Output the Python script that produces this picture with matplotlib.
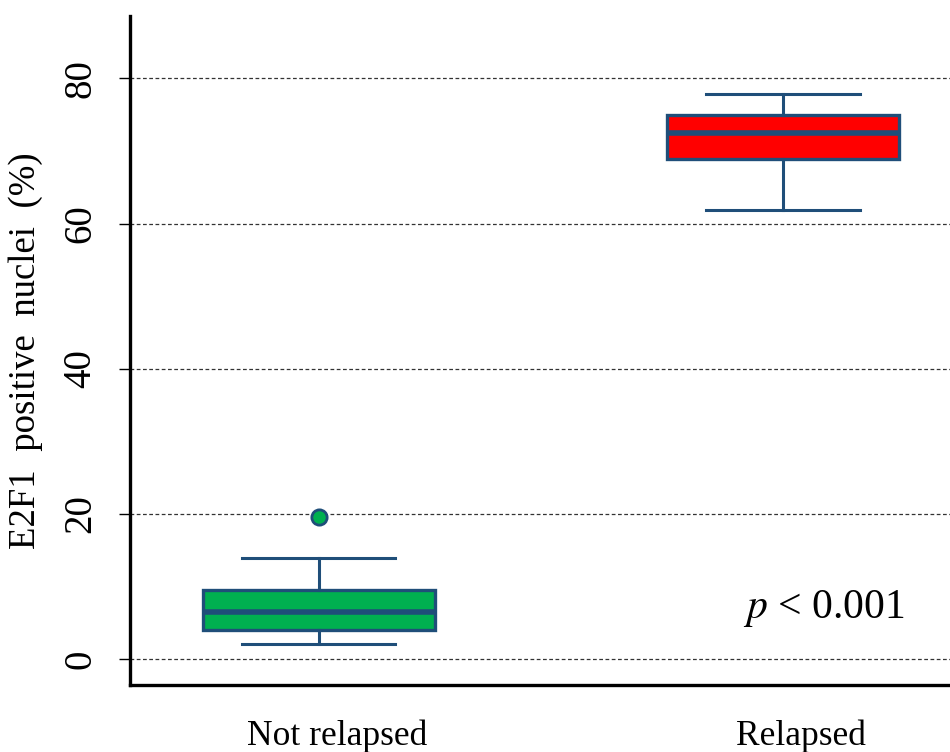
import matplotlib
matplotlib.use("Agg")
import matplotlib.pyplot as plt

# Box statistics
groups = ["Not relapsed", "Relapsed"]
whisker_low = [2.0, 61.9]
q1 = [4.0, 68.9]
median = [6.5, 72.5]
q3 = [9.5, 74.9]
whisker_high = [13.9, 77.8]
outliers = [[19.6], []]
box_colors = ["#00B050", "#FF0000"]

y_ticks = [0, 20, 40, 60, 80]
edge_color = "#1F4E79"

plt.rcParams["font.family"] = ["Liberation Serif", "DejaVu Serif"]

fig = plt.figure(figsize=(9.5, 7.52), dpi=100)
ax = fig.add_axes([0.1368, 0.0891, 0.8632, 0.8896])

stats = []
for i, name in enumerate(groups):
    stats.append({
        "label": name,
        "whislo": whisker_low[i],
        "q1": q1[i],
        "med": median[i],
        "q3": q3[i],
        "whishi": whisker_high[i],
        "fliers": outliers[i],
    })

positions = [1, 2]
bp = ax.bxp(stats, positions=positions, widths=0.5, patch_artist=True,
            showfliers=True, capwidths=0.33,
            boxprops=dict(edgecolor=edge_color, linewidth=2.4),
            medianprops=dict(color=edge_color, linewidth=4),
            whiskerprops=dict(color=edge_color, linewidth=2.2),
            capprops=dict(color=edge_color, linewidth=2.2),
            flierprops=dict(marker="o", markersize=11, markeredgewidth=2,
                            markeredgecolor=edge_color))

for patch, c in zip(bp["boxes"], box_colors):
    patch.set_facecolor(c)
for fl, c in zip(bp["fliers"], box_colors):
    fl.set_markerfacecolor(c)

ax.set_xlim(0.593, 2.36)
ax.set_ylim(-3.6, 88.6)
ax.set_yticks(y_ticks)
# category labels sit a little right of the box centres in the original
ax.set_xticks([p + 0.039 for p in positions])
ax.set_xticklabels(groups)
ax.yaxis.grid(True, linestyle=(0, (3, 2)), color="#333333", linewidth=0.9)
ax.set_axisbelow(True)

for s in ["top", "right"]:
    ax.spines[s].set_visible(False)
for s in ["left", "bottom"]:
    ax.spines[s].set_linewidth(2.4)

ax.tick_params(axis="y", length=8, width=1, labelsize=28, pad=14)
ax.tick_params(axis="x", length=0, labelsize=25.5, pad=25)
for lbl in ax.get_yticklabels():
    lbl.set_rotation(90)
    lbl.set_va("center")

ax.set_ylabel("E2F1  positive  nuclei  (%)", fontsize=26.5, labelpad=14)

ax.text(2.263, 6.9, r"$\it{p}$ < 0.001", fontsize=30, ha="right", va="center",
        math_fontfamily="stix")

fig.savefig("out.png", dpi=100)
